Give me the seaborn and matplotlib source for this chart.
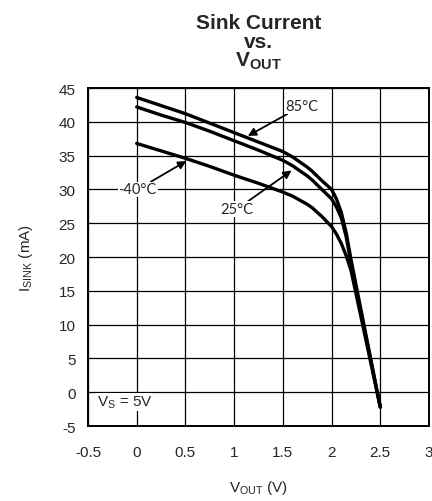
import matplotlib
matplotlib.use("Agg")
import matplotlib.pyplot as plt
import seaborn as sns
import pandas as pd

# datos
vout = [0, 0.25, 0.5, 0.75, 1.0, 1.25, 1.5, 1.6, 1.75, 1.8, 1.9, 2.0, 2.05, 2.1, 2.15, 2.2, 2.5]
isink_85 = [43.6, 42.4, 41.2, 39.8, 38.4, 37.0, 35.6, 34.8, 33.3, 32.7, 31.3, 30.0, 28.6, 26.6, 23.6, 19.6, -2.2]
isink_25 = [42.2, 41.0, 39.9, 38.6, 37.2, 35.8, 34.3, 33.5, 32.0, 31.4, 30.0, 28.6, 27.4, 25.8, 23.0, 19.0, -2.2]
isink_m40 = [36.8, 35.7, 34.6, 33.4, 32.1, 30.9, 29.6, 29.0, 27.8, 27.3, 26.0, 24.5, 23.4, 22.0, 20.2, 18.0, -2.2]
temps = ["85°C", "25°C", "-40°C"]
x_ticks = [-0.5, 0, 0.5, 1, 1.5, 2, 2.5, 3]
y_ticks = [-5, 0, 5, 10, 15, 20, 25, 30, 35, 40, 45]

df = pd.concat([
    pd.DataFrame({"vout": vout, "isink": isink_85, "temp": temps[0]}),
    pd.DataFrame({"vout": vout, "isink": isink_25, "temp": temps[1]}),
    pd.DataFrame({"vout": vout, "isink": isink_m40, "temp": temps[2]}),
], ignore_index=True)

sns.set_style("white")
plt.rcParams["font.family"] = ["Liberation Sans", "DejaVu Sans"]
plt.rcParams["mathtext.fontset"] = "custom"
plt.rcParams["mathtext.rm"] = "Liberation Sans"
plt.rcParams["mathtext.bf"] = "Liberation Sans:bold"
plt.rcParams["axes.unicode_minus"] = False

fig = plt.figure(figsize=(4.32, 5.02), dpi=100)
ax = fig.add_axes([0.2037, 0.1494, 0.7893, 0.6733])

sns.lineplot(data=df, x="vout", y="isink", hue="temp", units="temp", estimator=None,
             palette=["black"] * 3, linewidth=2.4, legend=False, ax=ax, sort=False)

ax.set_xlim(-0.5, 3)
ax.set_ylim(-5, 45)
ax.set_xticks(x_ticks)
ax.set_xticklabels([f"{t:g}" for t in x_ticks])
ax.set_yticks(y_ticks)
ax.set_yticklabels([f"{t:g}" for t in y_ticks])
ax.grid(True, color="black", linewidth=0.9)
ax.set_axisbelow(True)
for s in ax.spines.values():
    s.set_color("black")
    s.set_linewidth(1.4)
ax.tick_params(length=0, labelsize=11, pad=9)
ax.tick_params(axis="x", pad=14)

ax.set_xlabel(r"$\mathrm{V_{OUT}}$ (V)", fontsize=11, labelpad=13)
ax.set_ylabel(r"$\mathrm{I_{SINK}}$ (mA)", fontsize=11, labelpad=17)
ax.set_title("Sink Current\nvs.\n" + r"$\mathbf{V_{OUT}}$", fontsize=15,
             fontweight="bold", linespacing=0.95, pad=16)

# anotaciones
ann = dict(fontsize=10.5, family=["Lato", "DejaVu Sans"],
           bbox=dict(facecolor="white", edgecolor="none", pad=0.5))
arrow = dict(arrowstyle="-|>", color="black", lw=1.3, mutation_scale=12, shrinkA=0, shrinkB=0)
ax.annotate("85°C", xy=(1.14, 37.9), xytext=(1.52, 42.3), ha="left", va="center",
            arrowprops=arrow, **ann)
ax.annotate("-40°C", xy=(0.51, 34.2), xytext=(0.01, 30.0), ha="center", va="center",
            arrowprops=arrow, **ann)
ax.annotate("25°C", xy=(1.59, 32.8), xytext=(1.03, 27.1), ha="center", va="center",
            arrowprops=arrow, **ann)
ax.text(-0.41, -1.4, r"$\mathrm{V_S}$ = 5V", fontsize=11, ha="left", va="center",
        bbox=dict(facecolor="white", edgecolor="none", pad=0.5))

fig.savefig("out.png", dpi=100)
